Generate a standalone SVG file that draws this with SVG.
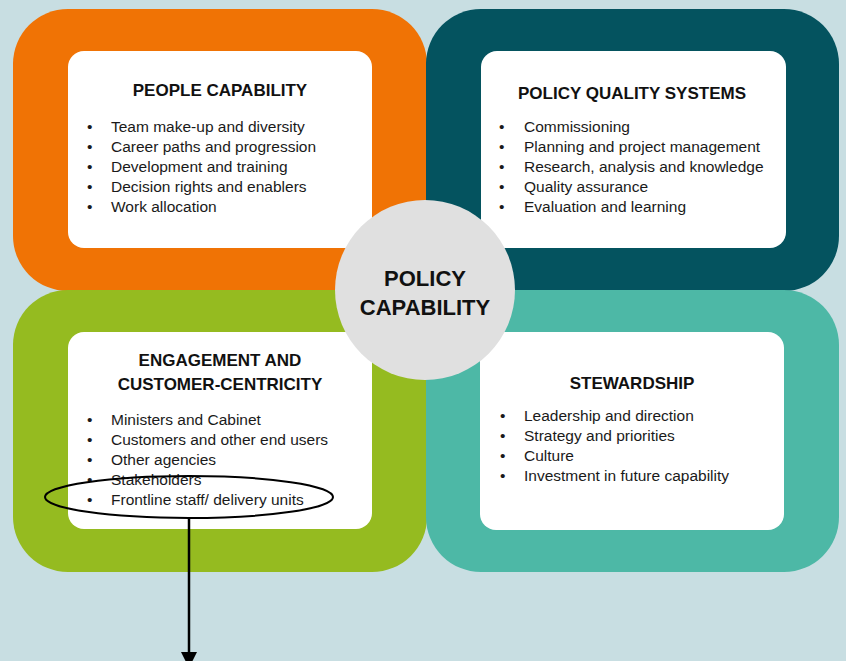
<svg xmlns="http://www.w3.org/2000/svg" width="846" height="661" viewBox="0 0 846 661">
<defs>
<style>
.t{font-family:"Liberation Sans",Arial,sans-serif;font-weight:bold;font-size:17px;fill:#111;text-anchor:middle}
.b{font-family:"Liberation Sans",Arial,sans-serif;font-size:15.5px;fill:#1a1a1a}
.c{font-family:"Liberation Sans",Arial,sans-serif;font-weight:bold;font-size:22px;fill:#111;text-anchor:middle}
.w{fill:#fff}
</style>
<marker id="ah" viewBox="0 0 10 10" refX="10" refY="5" markerWidth="16" markerHeight="16" markerUnits="userSpaceOnUse" orient="auto">
<path d="M0,0 L10,5 L0,10 z" fill="#000"/>
</marker>
</defs>
<rect width="846" height="661" fill="#C8DEE2"/>
<g id="people">
<rect x="13" y="9" width="414" height="282" rx="55" fill="#F07305"/>
<rect class="w" x="68" y="51" width="304" height="197" rx="16"/>
<text class="t" x="220" y="96">PEOPLE CAPABILITY</text>
<g class="b">
<text x="87" y="132">•</text><text x="111" y="132">Team make-up and diversity</text>
<text x="87" y="152">•</text><text x="111" y="152">Career paths and progression</text>
<text x="87" y="172">•</text><text x="111" y="172">Development and training</text>
<text x="87" y="192">•</text><text x="111" y="192">Decision rights and enablers</text>
<text x="87" y="212">•</text><text x="111" y="212">Work allocation</text>
</g>
</g>
<g id="quality">
<rect x="426" y="9" width="413" height="282" rx="55" fill="#04535F"/>
<rect class="w" x="481" y="51" width="305" height="197" rx="16"/>
<text class="t" x="632" y="99">POLICY QUALITY SYSTEMS</text>
<g class="b">
<text x="499" y="132">•</text><text x="524" y="132">Commissioning</text>
<text x="499" y="152">•</text><text x="524" y="152">Planning and project management</text>
<text x="499" y="172">•</text><text x="524" y="172">Research, analysis and knowledge</text>
<text x="499" y="192">•</text><text x="524" y="192">Quality assurance</text>
<text x="499" y="212">•</text><text x="524" y="212">Evaluation and learning</text>
</g>
</g>
<g id="engagement">
<rect x="13" y="290" width="414" height="282" rx="55" fill="#95BB20"/>
<rect class="w" x="68" y="332" width="304" height="197" rx="16"/>
<text class="t" x="220" y="366">ENGAGEMENT AND</text>
<text class="t" x="220" y="390">CUSTOMER-CENTRICITY</text>
<g class="b">
<text x="87" y="425">•</text><text x="111" y="425">Ministers and Cabinet</text>
<text x="87" y="445">•</text><text x="111" y="445">Customers and other end users</text>
<text x="87" y="465">•</text><text x="111" y="465">Other agencies</text>
<text x="87" y="485">•</text><text x="111" y="485">Stakeholders</text>
<text x="87" y="505">•</text><text x="111" y="505">Frontline staff/ delivery units</text>
</g>
</g>
<g id="stewardship">
<rect x="426" y="290" width="413" height="282" rx="55" fill="#4DB8A6"/>
<rect class="w" x="480" y="332" width="304" height="198" rx="16"/>
<text class="t" x="632" y="389">STEWARDSHIP</text>
<g class="b">
<text x="500" y="421">•</text><text x="524" y="421">Leadership and direction</text>
<text x="500" y="441">•</text><text x="524" y="441">Strategy and priorities</text>
<text x="500" y="461">•</text><text x="524" y="461">Culture</text>
<text x="500" y="481">•</text><text x="524" y="481">Investment in future capability</text>
</g>
</g>
<g id="center">
<circle cx="425" cy="290" r="90" fill="#E0E0E0"/>
<text class="c" x="425" y="286">POLICY</text>
<text class="c" x="425" y="315">CAPABILITY</text>
</g>
<g id="connectors">
<ellipse cx="189" cy="497" rx="144" ry="21" fill="none" stroke="#000" stroke-width="2"/>
<line x1="189" y1="518" x2="189" y2="668" stroke="#000" stroke-width="2.5" marker-end="url(#ah)"/>
</g>
</svg>
